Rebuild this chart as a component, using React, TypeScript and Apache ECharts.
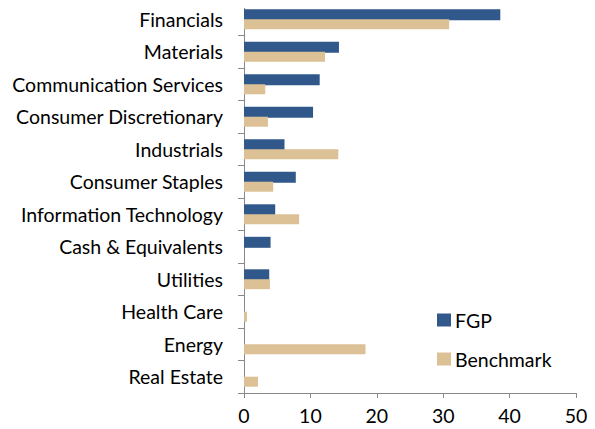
import React, { useEffect, useRef } from "react";
import * as echarts from "echarts";

const categories = [
  "Financials",
  "Materials",
  "Communication Services",
  "Consumer Discretionary",
  "Industrials",
  "Consumer Staples",
  "Information Technology",
  "Cash & Equivalents",
  "Utilities",
  "Health Care",
  "Energy",
  "Real Estate",
];
const fgp = [38.6, 14.3, 11.4, 10.4, 6.1, 7.8, 4.7, 4.0, 3.8, 0, 0, 0];
const benchmark = [30.9, 12.2, 3.2, 3.6, 14.2, 4.4, 8.3, 0, 3.9, 0.45, 18.3, 2.1];
const xTicks = { min: 0, max: 50, interval: 10 };

const FONT = "Lato, 'Open Sans', sans-serif";
const FS = 19.5;

export default function App() {
  const ref = useRef<HTMLDivElement>(null);
  useEffect(() => {
    if (!ref.current) return;
    const chart = echarts.init(ref.current, undefined, { renderer: "svg" });
    chart.setOption({
      animation: false,
      textStyle: { fontFamily: FONT },
      grid: { left: 244, right: 19, top: 3, bottom: 36, containLabel: false },
      legend: {
        orient: "vertical",
        left: 437,
        top: 310,
        padding: 0,
        itemWidth: 14,
        itemHeight: 13,
        itemGap: 19,
        icon: "rect",
        textStyle: { fontSize: FS, lineHeight: 20, color: "#000", fontFamily: FONT, padding: [0, 0, 0, -1] },
        data: ["FGP", "Benchmark"],
      },
      xAxis: {
        type: "value",
        min: xTicks.min,
        max: xTicks.max,
        interval: xTicks.interval,
        axisLine: { show: true, lineStyle: { color: "#898989", width: 1 } },
        axisTick: { show: true, length: 5, lineStyle: { color: "#898989" } },
        splitLine: { show: false },
        axisLabel: { fontSize: FS, color: "#000", margin: 12, fontFamily: FONT },
      },
      yAxis: {
        type: "category",
        data: categories,
        inverse: true,
        axisLine: { show: true, lineStyle: { color: "#898989", width: 1 } },
        axisTick: { show: true, length: 6, lineStyle: { color: "#898989" } },
        axisLabel: { fontSize: FS, color: "#000", margin: 21, fontFamily: FONT },
      },
      series: [
        {
          name: "FGP",
          type: "bar",
          data: fgp,
          barWidth: 11,
          barGap: "-10%",
          itemStyle: { color: "#30588B" },
        },
        {
          name: "Benchmark",
          type: "bar",
          data: benchmark,
          barWidth: 10,
          itemStyle: { color: "#DBC195" },
        },
      ],
    });
    return () => chart.dispose();
  }, []);
  return <div ref={ref} style={{ width: 595, height: 429, marginLeft: -8, marginTop: -8 }} />;
}
